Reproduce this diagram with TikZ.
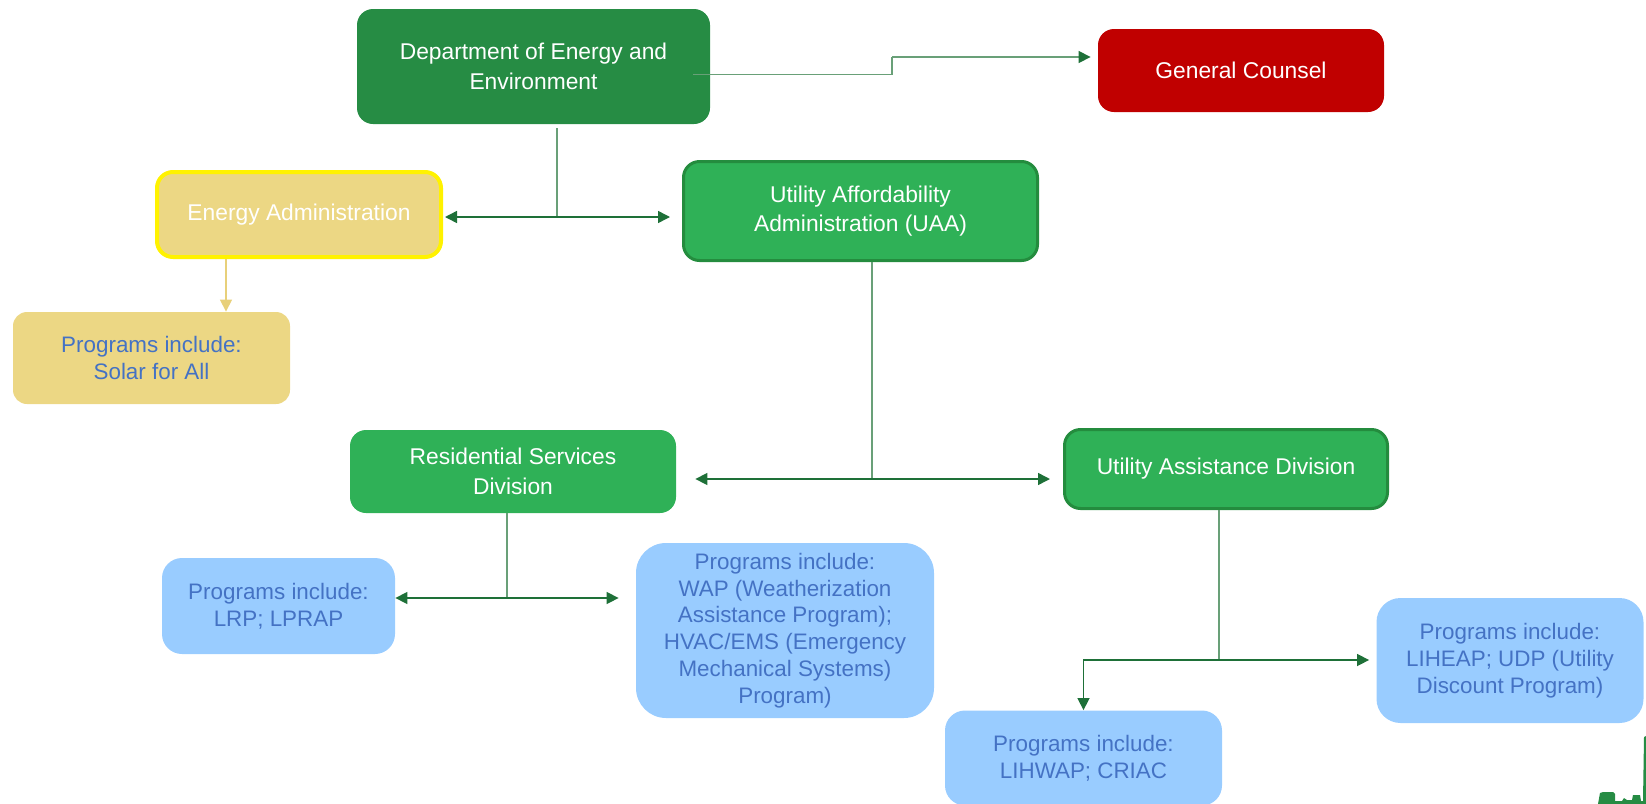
\documentclass[tikz,border=0pt]{standalone}
\usepackage{fontspec}
\setmainfont{Liberation Sans}
\usetikzlibrary{arrows.meta}

\definecolor{deptgreen}{RGB}{38,140,68}
\definecolor{divgreen}{RGB}{47,177,87}
\definecolor{divedge}{RGB}{36,140,62}
\definecolor{counselred}{RGB}{192,0,0}
\definecolor{khaki}{RGB}{236,215,132}
\definecolor{khakiline}{RGB}{232,208,122}
\definecolor{progblue}{RGB}{153,204,255}
\definecolor{progtext}{RGB}{68,114,196}
\definecolor{linkgreen}{RGB}{30,112,56}
\definecolor{stemgreen}{RGB}{105,160,120}

\begin{document}
\begin{tikzpicture}[x=0.5pt,y=-0.5pt,
    box/.style={rounded corners=8pt, align=center, inner sep=0pt, text=white,
        font=\fontsize{11.4}{14.7}\selectfont},
    prog/.style={rounded corners=10pt, fill=progblue, align=center, inner sep=0pt,
        text=progtext, font=\fontsize{11.2}{13.4}\selectfont},
    arr/.style={linkgreen, line width=0.75pt, -{Triangle[length=6pt,width=6pt]}},
    stem/.style={stemgreen, line width=0.6pt}]

            \useasboundingbox (0,0) rectangle (1646,804);
            \clip (0,0) rectangle (1646,804);

            % top level
            \node[box, fill=deptgreen, minimum width=176.5pt, minimum height=57.5pt] (doee) at (533.5,66.5) {Department of Energy and\\Environment};
            \node[box, fill=counselred, minimum width=143pt, minimum height=41.5pt] (gc) at (1241,70.5) {General Counsel};

            % administrations
            \node[box, fill=khaki, draw=yellow, line width=2pt, minimum width=142pt, minimum height=42.5pt] (ea) at (299,214.5) {Energy Administration};
            \node[box, fill=divgreen, draw=divedge, line width=1.5pt, minimum width=177pt, minimum height=49.5pt] (uaa) at (860.5,211) {Utility Affordability\\Administration (UAA)};
            \node[prog, fill=khaki, rounded corners=7pt, minimum width=138.5pt, minimum height=46pt] (solar) at (151.5,358) {Programs include:\\Solar for All};

            % divisions
            \node[box, fill=divgreen, minimum width=163pt, minimum height=41.5pt] (rsd) at (513,471.5) {Residential Services\\Division};
            \node[box, fill=divgreen, draw=divedge, line width=1.5pt, minimum width=161.5pt, minimum height=39.5pt] (uad) at (1226,469) {Utility Assistance Division};

            % programs
            \node[prog, minimum width=116.5pt, minimum height=48pt] (lrp) at (278.5,606) {Programs include:\\LRP; LPRAP};
            \node[prog, rounded corners=15pt, minimum width=149pt, minimum height=87.5pt] (wap) at (785,630.5) {Programs include:\\WAP (Weatherization\\Assistance Program);\\HVAC/EMS (Emergency\\Mechanical Systems)\\Program)};
            \node[prog, rounded corners=12pt, minimum width=133.5pt, minimum height=62.5pt] (liheap) at (1510,660.5) {Programs include:\\LIHEAP; UDP (Utility\\Discount Program)};
            \node[prog, minimum width=138.5pt, minimum height=47.5pt] (lihwap) at (1083.5,758) {Programs include:\\LIHWAP; CRIAC};

            % connectors
            \coordinate (gcstep) at (892,57);
            \draw[stem] ([shift={(-17,8)}]doee.east) -| (gcstep);
            \draw[stem, -{Triangle[length=6pt,width=6pt,color=linkgreen,fill=linkgreen]}] (gcstep) -- ([xshift=-3.5pt]gcstep -| gc.west);

            \coordinate (j1) at (557,217);
            \draw[stem] ([yshift=-2pt]doee.south -| j1) -- (j1);
            \draw[arr, shorten >=1pt] (j1) -- (j1 -| ea.east);
            \draw[arr] (j1) -- ([xshift=-6pt]j1 -| uaa.west);

            \draw[khakiline, line width=0.6pt, -{Triangle[length=6pt,width=6pt]}] ([shift={(-73,0)}]ea.south) -- ([shift={(-73,0)}]ea.south |- solar.north);

            \coordinate (j2) at (872,479);
            \draw[stem] (uaa.south -| j2) -- (j2);
            \draw[arr] (j2) -- ([xshift=9.5pt]j2 -| rsd.east);
            \draw[arr] (j2) -- ([xshift=-6.5pt]j2 -| uad.west);

            \coordinate (j3) at (507,598);
            \draw[stem] (rsd.south -| j3) -- (j3);
            \draw[arr] (j3) -- (j3 -| lrp.east);
            \draw[arr] (j3) -- ([xshift=-8.5pt]j3 -| wap.west);

            \coordinate (j4) at (1219,660);
            \draw[stem] (uad.south -| j4) -- (j4);
            \draw[arr] (j4) -- ([xshift=-3.5pt]j4 -| liheap.west);
            \draw[arr] (j4) -| (lihwap.north);

            % skyline in the corner
            \fill[deptgreen] (1598,804) -- (1600,793) -- (1603,792) -- (1613,792) -- (1615,794) -- (1615,801)
                -- (1622,801) -- (1624,798) -- (1627,800) -- (1632,800) -- (1633,795) -- (1640,795)
                -- (1641,801) -- (1643,801) -- (1644,737) -- (1646,736) -- (1646,804) -- cycle;
        \end{tikzpicture}
\end{document}
